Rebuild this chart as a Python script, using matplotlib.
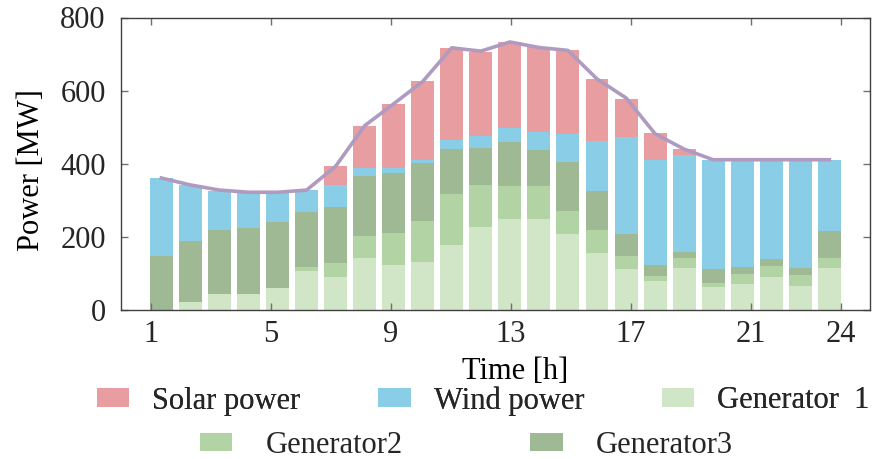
import numpy as np
import matplotlib
matplotlib.use("Agg")
import matplotlib.pyplot as plt

# hourly dispatch [MW]
hours = list(range(1, 25))
gen1 = [0, 21, 43, 43, 60, 107, 91, 141, 123, 131, 178, 227, 249, 250, 207, 156, 111, 80, 116, 63, 72, 90, 65, 116]
gen2 = [0, 0, 0, 0, 0, 11, 38, 62, 88, 113, 140, 115, 90, 90, 63, 63, 37, 13, 25, 11, 27, 30, 31, 27]
gen3 = [148, 169, 177, 180, 180, 149, 154, 164, 163, 157, 123, 101, 120, 97, 134, 107, 59, 31, 19, 37, 18, 20, 20, 73]
wind = [213, 152, 106, 99, 81, 60, 60, 22, 15, 10, 24, 33, 39, 51, 77, 137, 266, 286, 265, 300, 294, 271, 295, 195]
solar = [0, 0, 0, 0, 0, 0, 50, 113, 175, 214, 251, 231, 235, 230, 230, 169, 105, 73, 15, 0, 0, 0, 0, 0]
load = [361, 342, 328, 322, 322, 328, 393, 504, 564, 625, 717, 708, 733, 718, 710, 632, 580, 482, 440, 411, 411, 411, 411, 411]

tick_pos = [0.645, 4.78, 8.91, 13.04, 17.17, 21.3, 24.4]
tick_labels = ["1", "5", "9", "13", "17", "21", "24"]

plt.rcParams["font.family"] = ["Liberation Serif", "DejaVu Serif"]
plt.rcParams["font.size"] = 22
plt.rcParams["text.color"] = "#262626"

fig = plt.figure(figsize=(8.78, 4.59), dpi=100)
ax = fig.add_axes([121 / 878, 1 - 310 / 459, 749 / 878, 292.5 / 459])

c_solar = "#E89DA0"
c_wind = "#89CDE6"
c_g1 = "#D0E6C6"
c_g2 = "#B2D3A4"
c_g3 = "#A0B995"

w = 0.79
b = np.zeros(24)
h_g1 = ax.bar(hours, gen1, w, bottom=b, color=c_g1, linewidth=0)
b += gen1
h_g2 = ax.bar(hours, gen2, w, bottom=b, color=c_g2, linewidth=0)
b += gen2
h_g3 = ax.bar(hours, gen3, w, bottom=b, color=c_g3, linewidth=0)
b += gen3
h_w = ax.bar(hours, wind, w, bottom=b, color=c_wind, linewidth=0)
b += wind
h_s = ax.bar(hours, solar, w, bottom=b, color=c_solar, linewidth=0)

ax.plot(hours, load, color="#B09AC0", linewidth=2.6, zorder=5)

ax.set_xlim(-0.39, 25.4)
ax.set_ylim(0, 800)
ax.set_xticks(tick_pos)
ax.set_xticklabels(tick_labels)
ax.set_yticks([0, 200, 400, 600, 800])

for s in ax.spines.values():
    s.set_color("#404040")
    s.set_linewidth(1.0)
ax.tick_params(direction="in", length=5, width=1, color="#707070",
               top=True, right=True, labelcolor="#262626")
ax.tick_params(axis="y", pad=11)
ax.tick_params(axis="x", pad=7)

ax.set_xlabel("Time [h]", labelpad=0)
ax.xaxis.set_label_coords(0.526, -0.16)
ax.set_ylabel("Power [MW]")
ax.yaxis.set_label_coords(-0.100, 0.48)

leg1 = fig.legend([h_s, h_w, h_g1], ["Solar power", "Wind power", "Generator  1"],
                  ncol=3, frameon=False, loc="upper left",
                  bbox_to_anchor=(97 / 878, 1 - 386 / 459),
                  borderpad=0, borderaxespad=0, handlelength=1.06, handleheight=0.55,
                  handletextpad=0.75, columnspacing=2.55)
leg2 = fig.legend([h_g2, h_g3], ["Generator2", "Generator3"],
                  ncol=2, frameon=False, loc="upper left",
                  bbox_to_anchor=(200 / 878, 1 - 431 / 459),
                  borderpad=0, borderaxespad=0, handlelength=1.06, handleheight=0.55,
                  handletextpad=1.1, columnspacing=4.16)
fig.add_artist(leg1)

fig.savefig("out.png", dpi=100)
